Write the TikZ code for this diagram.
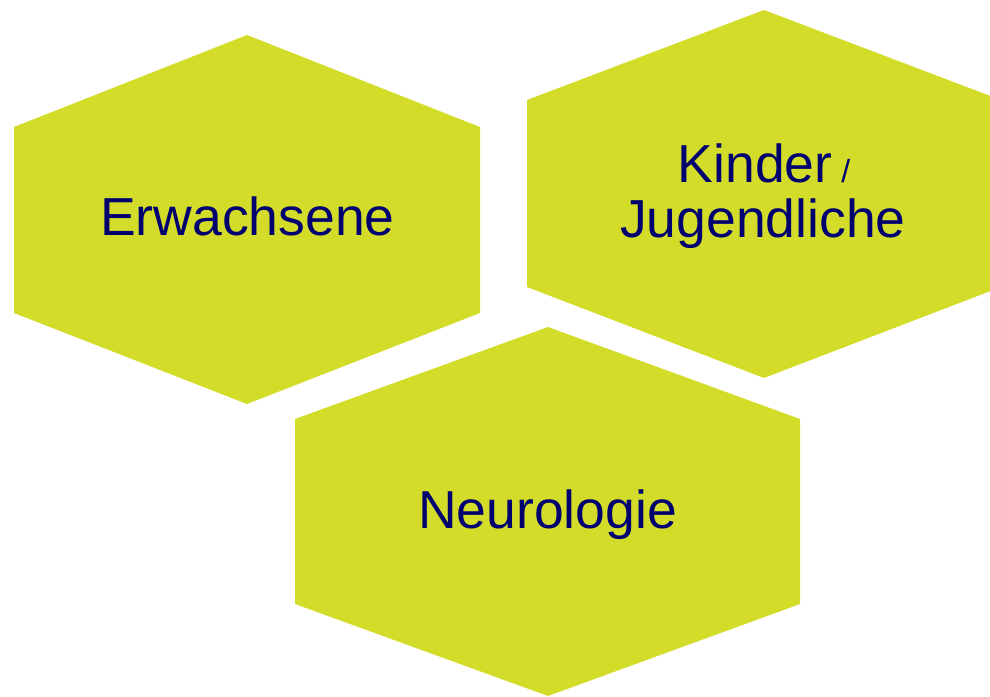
\documentclass[tikz,border=0pt]{standalone}
\usepackage{fontspec}
\setmainfont{Liberation Sans}
\usepackage{tikz}
\usetikzlibrary{positioning}
\definecolor{hexgreen}{RGB}{212,220,42}
\definecolor{hexnavy}{RGB}{0,0,110}
\tikzset{hexlabel/.style={text=hexnavy, anchor=base, inner sep=0pt, font=\fontsize{53.5}{55}\selectfont}}

\begin{document}
\begin{tikzpicture}[x=1pt,y=-1pt]
				\useasboundingbox (0,0) rectangle (990,696);
				\clip (0,0) rectangle (990,696);
				\fill[hexgreen] (247,35) -- (480,127) -- (480,313) -- (247,404) -- (14,313) -- (14,127) -- cycle;
				\fill[hexgreen] (764,10) -- (1001,100) -- (1001,287) -- (764,378) -- (527,287) -- (527,100) -- cycle;
				\fill[hexgreen] (548,327) -- (800,419) -- (800,604) -- (548,696) -- (295,604) -- (295,419) -- cycle;
				\node[hexlabel] (erw) at (247.5,235) {Erwachsene};
				\node[hexlabel] (kind) at (764,182) {Kinder{\fontsize{32}{32}\selectfont{} /}};
				\node[hexlabel] (jug) at (763,237) {Jugendliche};
				\node[hexlabel] (neuro) at (547.5,528) {Neurologie};
			\end{tikzpicture}
\end{document}
